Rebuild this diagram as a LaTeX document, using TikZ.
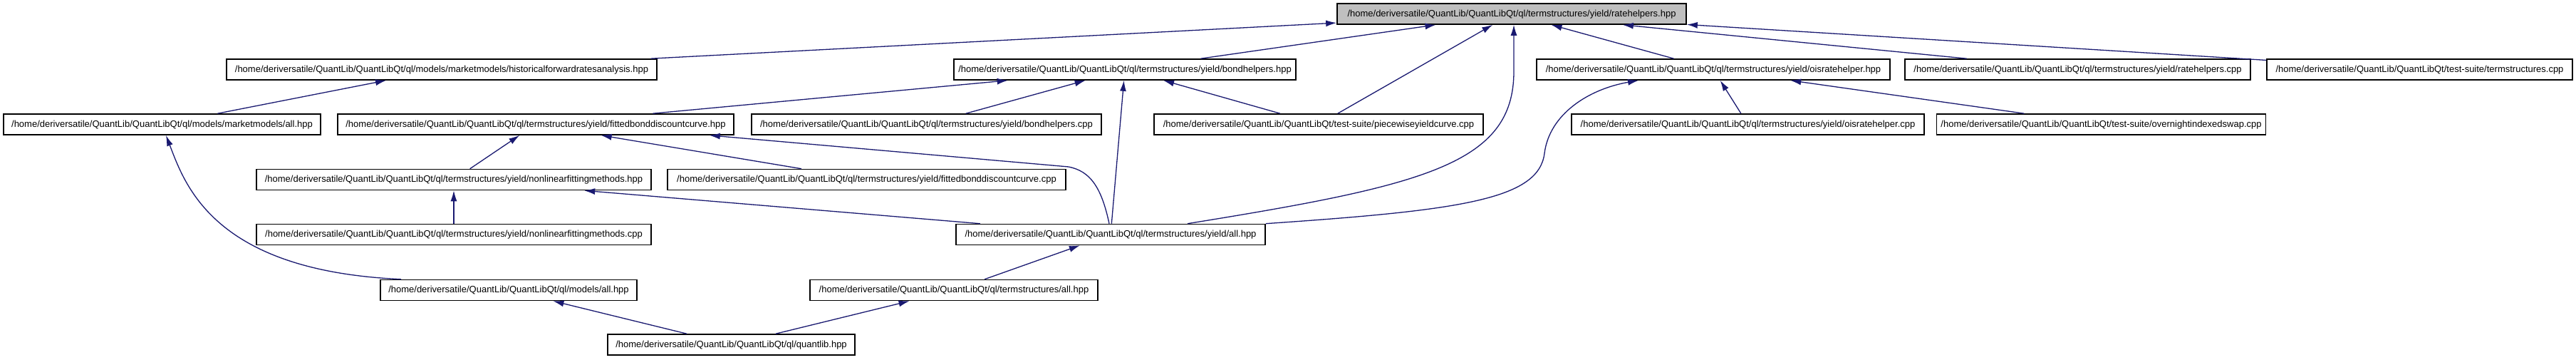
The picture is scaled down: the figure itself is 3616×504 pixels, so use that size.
\documentclass[tikz,border=0pt]{standalone}
\usepackage{fontspec}
\setmainfont{Liberation Sans}
\usetikzlibrary{arrows.meta}
\definecolor{depblue}{RGB}{25,25,112}
\definecolor{topgrey}{RGB}{191,191,191}

\begin{document}
\begin{tikzpicture}[x=1pt,y=-1pt,
  filebox/.style={draw=black,line width=1.6pt,minimum height=29pt,inner xsep=6pt,inner ysep=0pt,text height=9.6pt,text depth=2.6pt,font=\fontsize{13}{15}\selectfont},
  dep/.style={draw=depblue,line width=1.3pt,-{Latex[length=15pt,width=9pt]}}]
  \useasboundingbox (0,0) rectangle (3616,504);
  % row 1
  \node[filebox,fill=topgrey,minimum width=490] (rh) at (2122,19.5) {/home/deriversatile/QuantLib/QuantLibQt/ql/termstructures/yield/ratehelpers.hpp};
  % row 2
  \node[filebox,minimum width=604] (hist) at (620,97.5) {/home/deriversatile/QuantLib/QuantLibQt/ql/models/marketmodels/historicalforwardratesanalysis.hpp};
  \node[filebox,minimum width=480] (bh) at (1579,97.5) {/home/deriversatile/QuantLib/QuantLibQt/ql/termstructures/yield/bondhelpers.hpp};
  \node[filebox,minimum width=496] (ois) at (2405,97.5) {/home/deriversatile/QuantLib/QuantLibQt/ql/termstructures/yield/oisratehelper.hpp};
  \node[filebox,minimum width=485] (rhcpp) at (2916.5,97.5) {/home/deriversatile/QuantLib/QuantLibQt/ql/termstructures/yield/ratehelpers.cpp};
  \node[filebox,minimum width=429] (tscpp) at (3396.5,97.5) {/home/deriversatile/QuantLib/QuantLibQt/test-suite/termstructures.cpp};
  % row 3
  \node[filebox,minimum width=445] (mmall) at (227.5,174.5) {/home/deriversatile/QuantLib/QuantLibQt/ql/models/marketmodels/all.hpp};
  \node[filebox,minimum width=556] (fbdc) at (752,174.5) {/home/deriversatile/QuantLib/QuantLibQt/ql/termstructures/yield/fittedbonddiscountcurve.hpp};
  \node[filebox,minimum width=491] (bhcpp) at (1300.5,174.5) {/home/deriversatile/QuantLib/QuantLibQt/ql/termstructures/yield/bondhelpers.cpp};
  \node[filebox,minimum width=462] (pwyc) at (1851,174.5) {/home/deriversatile/QuantLib/QuantLibQt/test-suite/piecewiseyieldcurve.cpp};
  \node[filebox,minimum width=495] (oiscpp) at (2453.5,174.5) {/home/deriversatile/QuantLib/QuantLibQt/ql/termstructures/yield/oisratehelper.cpp};
  \node[filebox,minimum width=447] (onis) at (2949.5,174.5) {/home/deriversatile/QuantLib/QuantLibQt/test-suite/overnightindexedswap.cpp};
  % row 4
  \node[filebox,minimum width=554] (nlfm) at (637,252) {/home/deriversatile/QuantLib/QuantLibQt/ql/termstructures/yield/nonlinearfittingmethods.hpp};
  \node[filebox,minimum width=559] (fbdccpp) at (1216.5,252) {/home/deriversatile/QuantLib/QuantLibQt/ql/termstructures/yield/fittedbonddiscountcurve.cpp};
  % row 5
  \node[filebox,minimum width=554] (nlfmcpp) at (637,329) {/home/deriversatile/QuantLib/QuantLibQt/ql/termstructures/yield/nonlinearfittingmethods.cpp};
  \node[filebox,minimum width=434] (yall) at (1559,329) {/home/deriversatile/QuantLib/QuantLibQt/ql/termstructures/yield/all.hpp};
  % row 6
  \node[filebox,minimum width=360] (modall) at (714,407) {/home/deriversatile/QuantLib/QuantLibQt/ql/models/all.hpp};
  \node[filebox,minimum width=404] (tsall) at (1339,407) {/home/deriversatile/QuantLib/QuantLibQt/ql/termstructures/all.hpp};
  % row 7
  \node[filebox,minimum width=347] (ql) at (1026.5,483.5) {/home/deriversatile/QuantLib/QuantLibQt/ql/quantlib.hpp};

  % includes
  \draw[dep] (hist) -- (rh); \draw[dep] (bh) -- (rh); \draw[dep] (pwyc) -- (rh);
  \draw[dep] (ois) -- (rh); \draw[dep] (rhcpp) -- (rh); \draw[dep] (tscpp) -- (rh);
  \draw[dep] ([xshift=108pt]yall.north) .. controls (2000,260) and (2125,230) .. (2125,100) -- ([xshift=3pt]rh.south);
  \draw[dep] (mmall) -- (hist);
  \draw[dep] (fbdc) -- (bh); \draw[dep] (bhcpp) -- (bh); \draw[dep] (pwyc) -- (bh); \draw[dep] (yall) -- (bh);
  \draw[dep] (nlfm) -- (fbdc); \draw[dep] (fbdccpp) -- (fbdc);
  \draw[dep] ([xshift=-2pt]yall.north) .. controls (1546,262) and (1530,240) .. (1500,234) -- ([xshift=-35pt]fbdc.south east);
  \draw[dep] (nlfmcpp) -- (nlfm); \draw[dep] (yall) -- (nlfm);
  \draw[dep] ([xshift=-151pt]modall.north) .. controls (300,380) and (260,260) .. ([xshift=5.5pt]mmall.south);
  \draw[dep] (yall.north east) .. controls (2050,295) and (2160,280) .. (2168,215) .. controls (2175,160) and (2230,125) .. ([xshift=-105pt]ois.south);
  \draw[dep] (oiscpp) -- (ois); \draw[dep] (onis) -- (ois);
  \draw[dep] (tsall) -- (yall);
  \draw[dep] (ql) -- (modall); \draw[dep] (ql) -- (tsall);
\end{tikzpicture}
\end{document}
